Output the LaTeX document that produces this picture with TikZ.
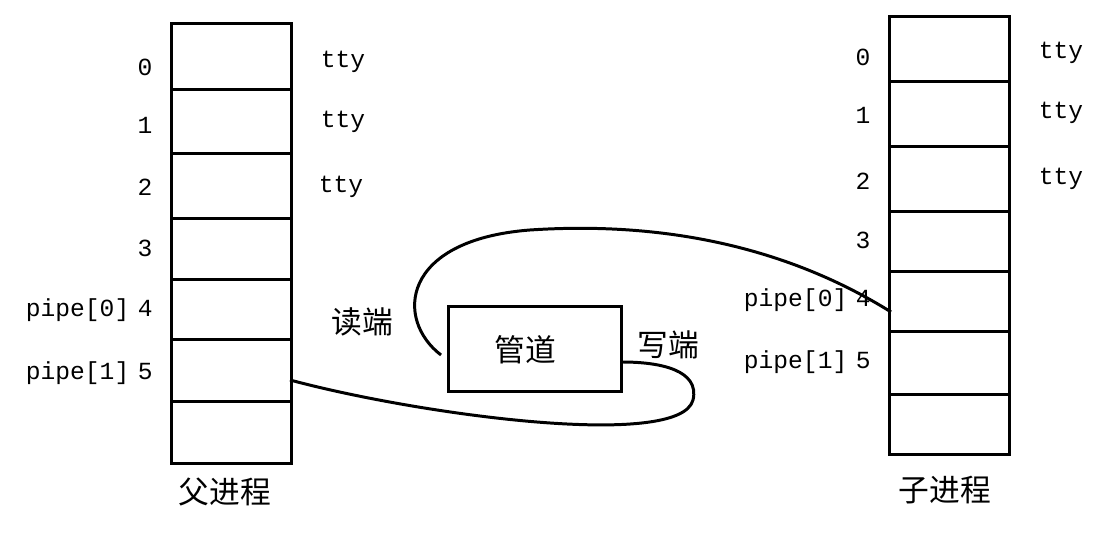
\documentclass[tikz,border=0pt]{standalone}
\usepackage{fontspec}
\setmonofont{Liberation Mono}
\newfontfamily\cjk{Noto Sans CJK SC}
\begin{document}
\begin{tikzpicture}[x=0.02cm,y=-0.02cm,
  cell/.style={draw,line width=1.7pt},
  lab/.style={font=\ttfamily\fontsize{14}{14}\selectfont,inner sep=0},
  zh/.style={font=\cjk\fontsize{17.5}{17.5}\selectfont,inner sep=0},
  wire/.style={line width=1.7pt}]
\useasboundingbox (0,0) rectangle (1099,553);
\foreach \a/\b [count=\i] in {22/88,88/152,152/217,217/278,278/338,338/400,400/462}
  \node[cell,minimum width=0.02*120cm,minimum height=0.02*(\b-\a)*1cm,anchor=north west] (L\i) at (170,\a) {};
\foreach \a/\b [count=\i] in {15/80,80/145,145/210,210/270,270/330,330/393,393/453}
  \node[cell,minimum width=0.02*120cm,minimum height=0.02*(\b-\a)*1cm,anchor=north west] (R\i) at (888,\a) {};
\node[lab] (l0) at (145,67) {0};
\node[lab] (l1) at (145,125) {1};
\node[lab] (l2) at (145,187) {2};
\node[lab] (l3) at (145,248) {3};
\node[lab,anchor=east] (l4) at (153,310) {pipe[0]\hspace{0.35em}4};
\node[lab,anchor=east] (l5) at (153,373) {pipe[1]\hspace{0.35em}5};
\node[lab] (t0) at (343,62) {tty};
\node[lab] (t1) at (343,122) {tty};
\node[lab] (t2) at (341,187) {tty};
\node[lab] (r0) at (863,57) {0};
\node[lab] (r1) at (863,115) {1};
\node[lab] (r2) at (863,181) {2};
\node[lab] (r3) at (863,240) {3};
\node[lab,anchor=east] (r4) at (871,300) {pipe[0]\hspace{0.35em}4};
\node[lab,anchor=east] (r5) at (871,362) {pipe[1]\hspace{0.35em}5};
\node[lab] (u0) at (1061,53) {tty};
\node[lab] (u1) at (1061,113) {tty};
\node[lab] (u2) at (1061,179) {tty};
\node[zh] (f) at (225,492) {父进程};
\node[zh] (c) at (945,490) {子进程};
\node[draw,line width=1.7pt,minimum width=0.02*173cm,minimum height=0.02*85cm,anchor=north west] (p) at (447,305) {};
\node[zh] at (525,350) {管道};
\node[zh] (rd) at (362,322) {读端};
\node[zh] (wr) at (668,345) {写端};
\coordinate (a1) at (290,380);
\coordinate (a2) at (622,362);
\coordinate (b1) at (441,355);
\coordinate (b2) at (891,312);
\draw[wire] (a1) .. controls (420,415) and (680,450) .. (693,400) .. controls (700,370) and (660,362) .. (a2);
\draw[wire] (b1) .. controls (395,320) and (400,240) .. (530,230) .. controls (680,220) and (800,255) .. (b2);
\end{tikzpicture}
\end{document}
